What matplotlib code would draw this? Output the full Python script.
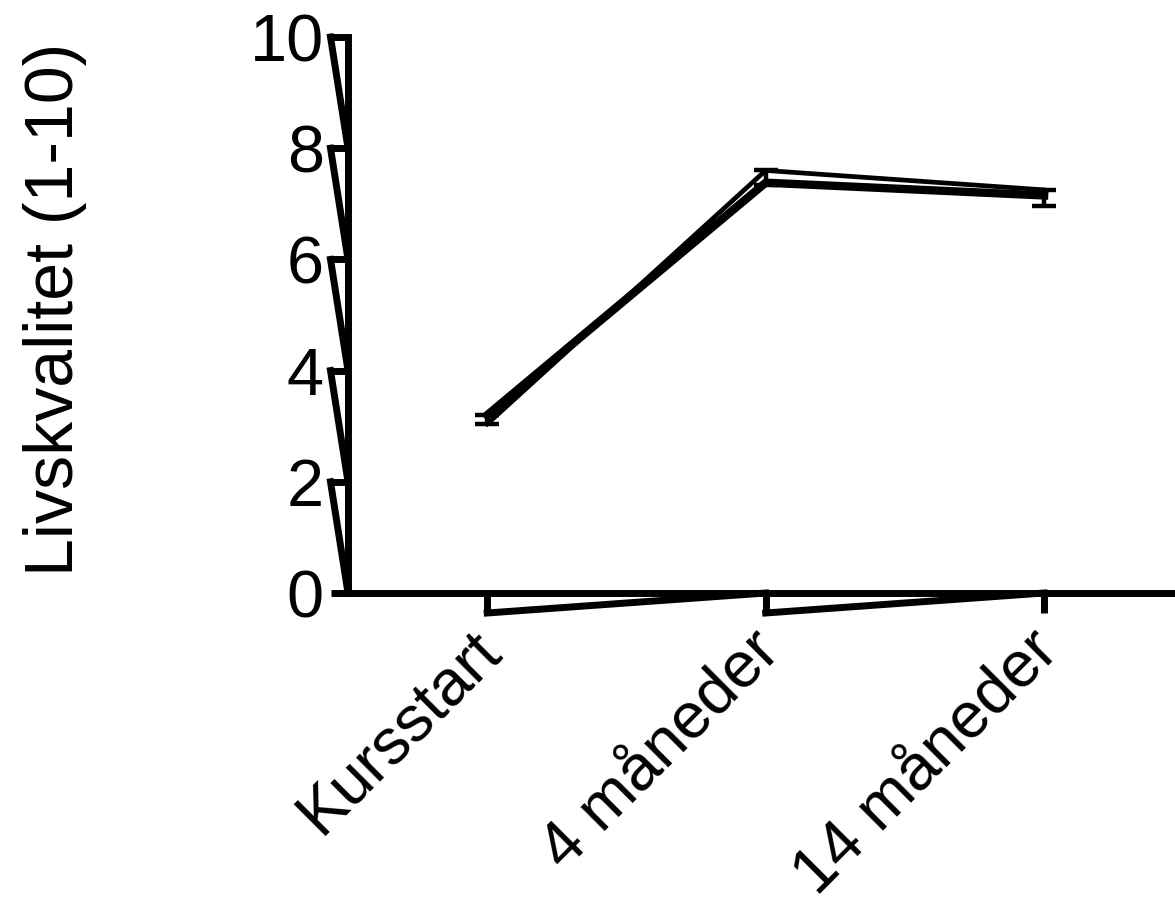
import matplotlib
matplotlib.use('Agg')
import matplotlib.pyplot as plt
import matplotlib.transforms as mtransforms
import numpy as np

# ---- data ----
categories = ['Kursstart', '4 måneder', '14 måneder']
line_thick = [3.20, 7.38, 7.15]
line_thin = [3.04, 7.60, 7.25]
err_low = [3.04, 7.34, 6.96]
err_high = [3.20, 7.60, 7.25]
y_ticks = [0, 2, 4, 6, 8, 10]
y_label = 'Livskvalitet (1-10)'

plt.rcParams['font.family'] = ['Liberation Sans', 'DejaVu Sans']

W, H = 1175, 916
fig = plt.figure(figsize=(W / 100, H / 100), dpi=100)
ax = fig.add_axes([348 / W, 323 / H, 827 / W, 556 / H])
x = np.arange(len(categories))
ax.set_xlim(-0.5, 2.47)
ax.set_ylim(0, 10)

LW = 5.0
FS = 48
# error bars
low = np.array(err_low)
high = np.array(err_high)
mid = (low + high) / 2
ax.errorbar(x, mid, yerr=[mid - low, high - mid], fmt='none', ecolor='black',
            elinewidth=3.2, capsize=8.5, capthick=3.2, clip_on=False, zorder=3)

# lines
ax.plot(x, line_thick, color='black', lw=6.0, clip_on=False, zorder=4)
ax.plot(x, line_thin, color='black', lw=3.4, clip_on=False, zorder=4)

# spines / ticks
for s in ['top', 'right']:
    ax.spines[s].set_visible(False)
for s in ['left', 'bottom']:
    ax.spines[s].set_linewidth(LW)
    ax.spines[s].set_color('black')
ax.set_yticks(y_ticks)
ax.set_yticklabels([str(t) for t in y_ticks])
ax.set_xticks(x)
ax.set_xticklabels(categories)
ax.tick_params(axis='y', length=12.5, width=LW, pad=5, labelsize=FS, direction='out')
ax.tick_params(axis='x', length=14.5, width=LW, pad=6, labelsize=46.5, direction='out')
plt.setp(ax.get_xticklabels(), rotation=45, ha='right', va='top', rotation_mode='anchor')
shift = mtransforms.ScaledTranslation(-0.17, 0.02, fig.dpi_scale_trans)
for lab in ax.get_xticklabels():
    lab.set_transform(lab.get_transform() + shift)

# zig-zag axis artefacts (diagonals joining the ticks)
tl_y = 17.5 / 827
for i in range(1, len(y_ticks)):
    ax.plot([-tl_y, 0], [y_ticks[i], y_ticks[i - 1]], transform=ax.get_yaxis_transform(),
            color='black', lw=LW, clip_on=False, solid_joinstyle='miter')
tl_x = 20 / 556
for i in range(len(x) - 1):
    ax.plot([x[i], x[i + 1]], [-tl_x, 0], transform=ax.get_xaxis_transform(),
            color='black', lw=LW, clip_on=False)

ax.set_ylabel(y_label, fontsize=49)
ax.yaxis.set_label_coords(-0.316, 0.51)

fig.savefig('out.png', dpi=100)
